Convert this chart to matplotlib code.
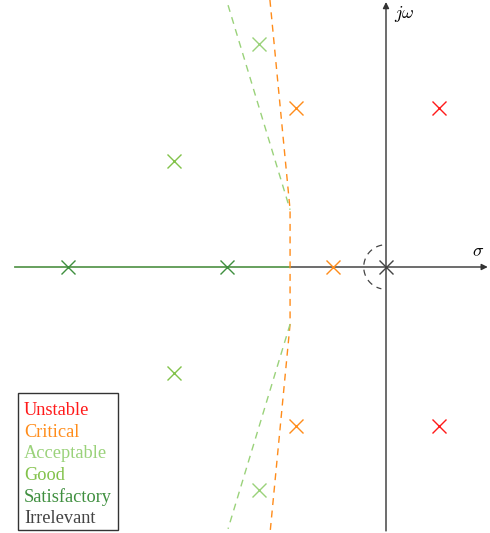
import matplotlib
matplotlib.use("Agg")
import matplotlib.pyplot as plt
from matplotlib.patches import Rectangle
import numpy as np

plt.rcParams["mathtext.fontset"] = "cm"

# Pole locations grouped by stability class (real part, imaginary part)
categories = ["Unstable", "Critical", "Acceptable", "Good", "Satisfactory", "Irrelevant"]
colors = ["#ff1a1a", "#ff8c1a", "#9ad27a", "#82c24a", "#3f8f3f", "#444444"]
pole_re = [
    [1.0, 1.0],
    [-1.7, -1.7, -1.0],
    [-2.4, -2.4],
    [-4.0, -4.0],
    [-6.0, -3.0],
    [0.0],
]
pole_im = [
    [3.0, -3.0],
    [3.0, -3.0, 0.0],
    [4.2, -4.2],
    [2.0, -2.0],
    [0.0, 0.0],
    [0.0],
]

# Boundary of the admissible region (dashed)
crit_re = [-2.19, -1.81, -1.81, -2.19]
crit_im = [5.04, 1.08, -1.08, -5.04]
acc_re = [-2.98, -1.81, np.nan, -1.81, -2.98]
acc_im = [4.94, 1.08, np.nan, -1.08, -4.94]
# Real-axis segment
seg_re = [-7.0, -1.81]
seg_im = [0.0, 0.0]
# Small arc around the origin
arc_r = 0.42
arc_deg = np.linspace(100, 258, 60)

W, H = 490, 533
fig = plt.figure(figsize=(W / 100, H / 100), dpi=100)
ax = fig.add_axes([0, 0, 1, 1])
s = 53.0
ax.set_xlim(-386 / s, (W - 386) / s)
ax.set_ylim(-266 / s, 267 / s)
ax.axis("off")

# Axes with arrows
ax.annotate("", xy=(1.92, 0), xytext=(-7.0, 0),
            arrowprops=dict(arrowstyle="-|>", color="#333333", lw=1.0,
                            mutation_scale=9, shrinkA=0, shrinkB=0))
ax.annotate("", xy=(0, 5.0), xytext=(0, -4.98),
            arrowprops=dict(arrowstyle="-|>", color="#333333", lw=1.0,
                            mutation_scale=9, shrinkA=0, shrinkB=0))
ax.text(1.74, 0.12, r"$\sigma$", fontsize=13, ha="center", va="bottom")
ax.text(0.15, 4.78, r"$j\omega$", fontsize=13, ha="left", va="center")

ax.plot(seg_re, seg_im, color="#6aa860", lw=1.3, zorder=3)
ax.plot(crit_re, crit_im, color=colors[1], lw=1.0, ls=(0, (5, 4)), zorder=3)
ax.plot(acc_re, acc_im, color=colors[2], lw=1.0, ls=(0, (5, 4)), zorder=3)
th = np.deg2rad(arc_deg)
ax.plot(arc_r * np.cos(th), arc_r * np.sin(th), color="#444444", lw=0.9,
        ls=(0, (5, 4)), zorder=3)

for c, xs, ys in zip(colors, pole_re, pole_im):
    ax.plot(xs, ys, ls="none", marker="x", markersize=10, mew=1.0, color=c, zorder=4)

# Legend box with coloured class names
box = Rectangle((18 / W, 1 - 530 / H), 100 / W, 137 / H, transform=fig.transFigure,
                facecolor="white", edgecolor="#333333", lw=1.0, zorder=5)
fig.add_artist(box)
for i, (name, c) in enumerate(zip(categories, colors)):
    fig.text(24 / W, 1 - (410.5 + 21.6 * i) / H, name, color=c,
             family="Liberation Serif", fontsize=13.2, ha="left", va="center",
             zorder=6)

fig.savefig("out.png", dpi=100)
